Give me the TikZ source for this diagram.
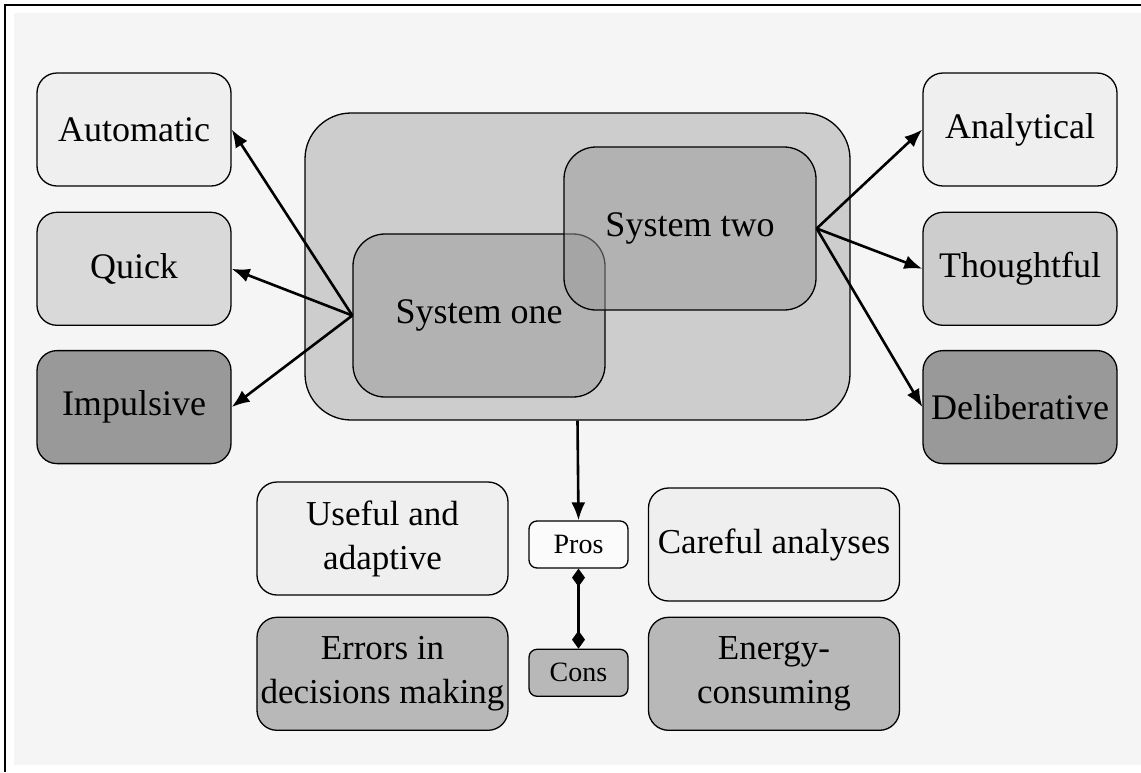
\documentclass[tikz,border=0pt]{standalone}
\usepackage{fontspec}
\setmainfont{Liberation Serif}
\usetikzlibrary{positioning,arrows.meta,shapes}
\definecolor{paper}{HTML}{F5F5F5}
\definecolor{pale}{HTML}{EFEFEF}
\definecolor{mid}{HTML}{D9D9D9}
\definecolor{midb}{HTML}{CDCDCD}
\definecolor{dark}{HTML}{999999}
\definecolor{shade}{HTML}{B8B8B8}
\tikzset{
>={Latex[length=18pt,width=14pt]},
  card/.style={
    rectangle,
    rounded corners=20pt,
    draw=black, line width=1.3pt,
    minimum width=194pt,
    minimum height=113pt,
    align=center,
    font=\fontsize{36}{44}\selectfont},
  wide/.style={card, minimum width=251pt,
    font=\fontsize{35}{44}\selectfont},
  tag/.style={
    rectangle,
    rounded corners=8pt,
    draw=black, line width=1.3pt,
    minimum width=99pt,
    minimum height=47pt,
    font=\fontsize{28}{32}\selectfont},
  system/.style={card,
    rounded corners=32pt,
    minimum width=252pt, minimum height=163pt,
    fill=dark, fill opacity=.5, text opacity=1},
  line/.style={draw, line width=2.6pt, ->},
  pair/.style={draw, line width=2.6pt,
    {Diamond[length=18pt,width=13pt]}-{Diamond[length=18pt,width=13pt]}},
}
\begin{document}
\begin{tikzpicture}[x=1pt,y=-1pt]
  \useasboundingbox (0,0) rectangle (1141,772);
  % page and its frame
  \fill[paper] (14,13) rectangle (1141,765);
  \draw[line width=1.3pt] (5,772) -- (5,5) -- (1141,5);
  % the two systems
  \node[card, rounded corners=46pt, fill=midb,
        minimum width=545pt, minimum height=307pt] (mind) at (577.5,266.5) {};
  \node[system] (sone) at (479,315.5) {System one};
  \node[system] (stwo) at (690,228.5) {System two};
  %% left column
  \node[card, fill=pale] (auto) at (134,129.5) {Automatic};
  \node[card, fill=mid, below=25pt of auto] (quick) {Quick};
  \node[card, fill=dark, below=24pt of quick] (impuls) {Impulsive};
  %% right column
  \node[card, fill=pale] (analyt) at (1020,129.5) {Analytical};
  \node[card, fill=midb, below=25pt of analyt] (thought) {Thoughtful};
  \node[card, fill=dark, below=24pt of thought] (delib) {Deliberative};
  % pros and cons
  \node[tag, fill=white!60!paper] (pros) at (578.5,544.5) {Pros};
  \node[tag, fill=shade, below=80pt of pros] (cons) {Cons};
  \node[wide, fill=pale] (useful) at (382.5,538.5) {Useful and\\adaptive};
  \node[wide, fill=shade, below=21pt of useful] (errors) {Errors in\\decisions making};
  \node[wide, fill=pale] (careful) at (774,544.5) {Careful analyses};
  \node[wide, fill=shade, below=15pt of careful] (energy) {Energy-\\consuming};
  % connectors
  \foreach \t in {auto,quick,impuls}
    \draw[line] (sone.west) -- (\t.east);
  \foreach \t in {analyt,thought,delib}
    \draw[line] (stwo.east) -- (\t.west);
  \draw[line] (mind.south) -- (pros.north);
  \draw[pair] (pros.south) -- (cons.north);
\end{tikzpicture}
\end{document}
